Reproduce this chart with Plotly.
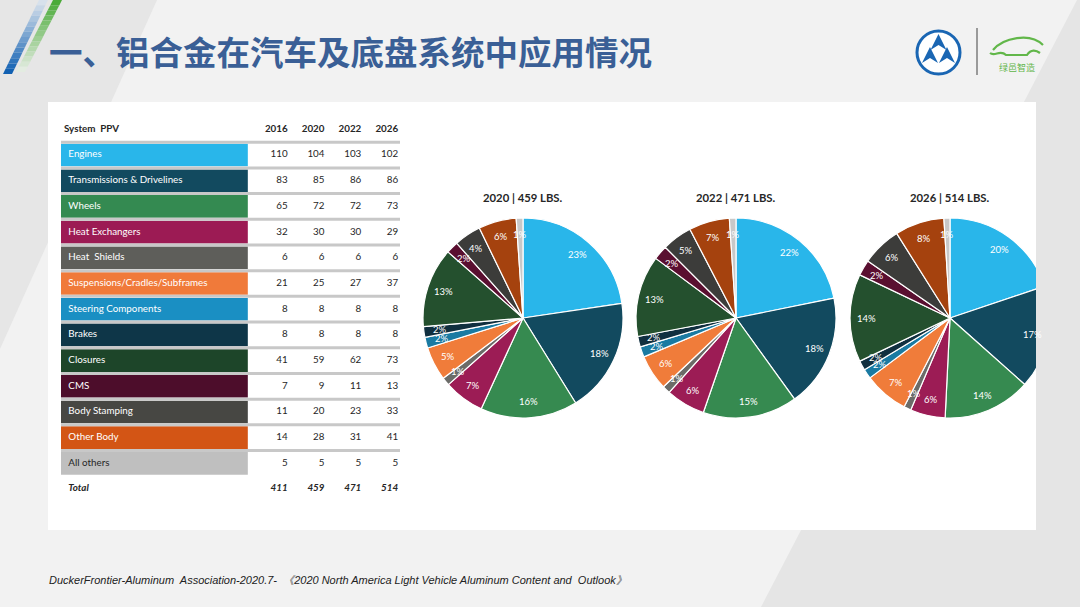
import math
import plotly.graph_objects as go

# ---------------- data ----------------
categories = ["Engines", "Transmissions & Drivelines", "Wheels", "Heat Exchangers",
              "Heat  Shields", "Suspensions/Cradles/Subframes", "Steering Components",
              "Brakes", "Closures", "CMS", "Body Stamping", "Other Body", "All others"]
years = ["2016", "2020", "2022", "2026"]
v2016 = [110, 83, 65, 32, 6, 21, 8, 8, 41, 7, 11, 14, 5]
v2020 = [104, 85, 72, 30, 6, 25, 8, 8, 59, 9, 20, 28, 5]
v2022 = [103, 86, 72, 30, 6, 27, 8, 8, 62, 11, 23, 31, 5]
v2026 = [102, 86, 73, 29, 6, 37, 8, 8, 73, 13, 33, 41, 5]
totals = [411, 459, 471, 514]
pie_years = ["2020", "2022", "2026"]
pct2020 = ["23%", "18%", "16%", "7%", "1%", "5%", "2%", "2%", "13%", "2%", "4%", "6%", "1%"]
pct2022 = ["22%", "18%", "15%", "6%", "1%", "6%", "2%", "2%", "13%", "2%", "5%", "7%", "1%"]
pct2026 = ["20%", "17%", "14%", "6%", "1%", "7%", "2%", "2%", "14%", "2%", "6%", "8%", "1%"]
title_text = "一、铝合金在汽车及底盘系统中应用情况"
source_text = ("DuckerFrontier-Aluminum  Association-2020.7-  《2020 North America Light "
               "Vehicle Aluminum Content and  Outlook》")
logo_text = "绿邑智造"

# ---------------- styles ----------------
table_colors = ["#29b6ea", "#124a5f", "#348a51", "#9c1b54", "#5e5e5a", "#f07a3a", "#1a8fc3",
                "#0e3648", "#1d4529", "#4d0d2b", "#474743", "#d35515", "#bfbfbf"]
pie_colors = ["#29b6ea", "#124a5f", "#368a50", "#9c1c55", "#6b6b68", "#f07c3a", "#1a7aa2",
              "#102f3f", "#24502e", "#5a0f30", "#3c3c3a", "#a5420e", "#c8c8c8"]
label_colors = ["white"] * 12 + ["#262626"]
TXT = "#262626"
FONT = "Lato"
CJK = "Noto Sans CJK SC"

W, H = 1080, 607


def X(x):
    return x / W


def Y(y):
    return 1 - y / H


def poly(pts):
    s = "M " + " L ".join(f"{X(a):.5f},{Y(b):.5f}" for a, b in pts) + " Z"
    return s


def lerp(c1, c2, t):
    a = [int(c1[i:i + 2], 16) for i in (1, 3, 5)]
    b = [int(c2[i:i + 2], 16) for i in (1, 3, 5)]
    return "#" + "".join(f"{int(round(a[k] + (b[k] - a[k]) * t)):02x}" for k in range(3))


def note(x, y, text, font, xanchor="center"):
    return dict(x=X(x), y=Y(y), xref="paper", yref="paper", text=text, showarrow=False,
                xanchor=xanchor, yanchor="middle", font=font)


fig = go.Figure()
shapes = []
annotations = []

# ---------- background decoration ----------
shapes.append(dict(type="path", xref="paper", yref="paper", layer="below",
                   path=poly([(0, 0), (157, 0), (0, 349)]),
                   fillcolor="#e6e6e6", line=dict(width=0)))
shapes.append(dict(type="path", xref="paper", yref="paper", layer="below",
                   path=poly([(1077, 0), (1080, 0), (1080, 607), (761, 607)]),
                   fillcolor="#e5e5e5", line=dict(width=0)))


def stripe(tl, tr, bl, br, y0, y1, ctop, cbot, n=14):
    for j in range(n):
        t0, t1 = j / n, (j + 1) / n
        ya, yb = y0 + (y1 - y0) * t0, y0 + (y1 - y0) * t1
        p = [(tl + (bl - tl) * t0, ya), (tr + (br - tr) * t0, ya),
             (tr + (br - tr) * t1, yb), (tl + (bl - tl) * t1, yb)]
        shapes.append(dict(type="path", xref="paper", yref="paper", layer="below",
                           path=poly(p), fillcolor=lerp(ctop, cbot, (t0 + t1) / 2),
                           line=dict(width=0)))


stripe(39, 48, 3, 12, 0, 74, "#dfe6ee", "#0a5cb0")
stripe(53, 62, 16, 25, 0, 72, "#45a833", "#e9efe7")

# white panel
shapes.append(dict(type="rect", xref="paper", yref="paper", layer="below",
                   x0=X(48), x1=X(1036), y0=Y(530), y1=Y(102),
                   fillcolor="white", line=dict(width=0)))

# ---------- logos ----------
shapes.append(dict(type="circle", xref="paper", yref="paper", layer="below",
                   x0=X(917), x1=X(960), y0=Y(74), y1=Y(31),
                   fillcolor="white", line=dict(color="#1a66b3", width=3)))
for ax, ay in [(938.5, 34), (930, 47), (947, 47)]:
    shapes.append(dict(type="path", xref="paper", yref="paper", layer="below",
                       path=poly([(ax, ay), (ax + 8, ay + 16), (ax, ay + 11), (ax - 8, ay + 16)]),
                       fillcolor="#1a66b3", line=dict(width=0)))
shapes.append(dict(type="line", xref="paper", yref="paper", layer="below",
                   x0=X(977), x1=X(977), y0=Y(28), y1=Y(75),
                   line=dict(color="#9a9a9a", width=2)))
car_roof = (f"M {X(993)},{Y(50)} C {X(1003)},{Y(38)} {X(1030)},{Y(32)} {X(1043)},{Y(45)}")
car_low = (f"M {X(990)},{Y(53)} C {X(995)},{Y(57)} {X(1000)},{Y(49)} {X(1006)},{Y(55)} "
           f"L {X(1027)},{Y(55)} C {X(1031)},{Y(49)} {X(1036)},{Y(50)} {X(1040)},{Y(53)}")
for pth in (car_roof, car_low):
    shapes.append(dict(type="path", xref="paper", yref="paper", layer="below",
                       path=pth, line=dict(color="#62b74a", width=2.2)))
annotations.append(note(1017, 67, logo_text, dict(family=CJK, size=9, color="#5fb548")))

# ---------- title & source ----------
annotations.append(note(47, 50, f"<b>{title_text}</b>",
                        dict(family=CJK, size=33.5, color="#3a5f96"), xanchor="left"))
annotations.append(note(47, 580, f"<i>{source_text}</i>",
                        dict(family="Liberation Sans", size=11, color="#222222"), xanchor="left"))

# ---------- table ----------
rows = list(range(len(categories)))
n = len(categories)
fig.add_trace(go.Bar(y=rows, x=[5.07] * n, base=0, orientation="h", width=0.88,
                     marker=dict(color=table_colors, line=dict(width=0)),
                     hoverinfo="skip", showlegend=False, xaxis="x", yaxis="y"))
lx, ly = [], []
for r in rows:
    lx += [-0.03, 9.2, None]
    ly += [r - 0.5, r - 0.5, None]
fig.add_trace(go.Scatter(x=lx, y=ly, mode="lines", line=dict(color="#c8c8c8", width=3),
                         hoverinfo="skip", showlegend=False, xaxis="x", yaxis="y"))
fig.add_trace(go.Scatter(x=[0.2] * n, y=rows, mode="text", text=categories,
                         textposition="middle right",
                         textfont=dict(family=FONT, size=9.8, color=label_colors),
                         hoverinfo="skip", showlegend=False, xaxis="x", yaxis="y"))
# header and total labels
fig.add_trace(go.Scatter(x=[0.08], y=[-1.0], mode="text", text=["<b>System  PPV</b>"],
                         textposition="middle right", textfont=dict(family=FONT, size=9.8, color=TXT),
                         hoverinfo="skip", showlegend=False, xaxis="x", yaxis="y"))
fig.add_trace(go.Scatter(x=[0.2], y=[n], mode="text", text=["<b><i>Total</i></b>"],
                         textposition="middle right", textfont=dict(family=FONT, size=9.8, color=TXT),
                         hoverinfo="skip", showlegend=False, xaxis="x", yaxis="y"))
for k, (yr, col, tot) in enumerate(zip(years, [v2016, v2020, v2022, v2026], totals)):
    xs = [6.15 + k] * (n + 2)
    ys = [-1.0] + rows + [n]
    texts = [f"<b>{yr}</b>"] + [str(v) for v in col] + [f"<b><i>{tot}</i></b>"]
    fig.add_trace(go.Scatter(x=xs, y=ys, mode="text", text=texts, textposition="middle left",
                             textfont=dict(family=FONT, size=9.8, color=TXT),
                             hoverinfo="skip", showlegend=False, xaxis="x", yaxis="y"))

# ---------- pies ----------
pie_vals = [v2020, v2022, v2026]
pie_pcts = [pct2020, pct2022, pct2026]
centers = [(523, 318), (736, 318), (950, 318)]
R = 100
for vals, pcts, (cx, cy), yr, tot in zip(pie_vals, pie_pcts, centers, pie_years, totals[1:]):
    fig.add_trace(go.Pie(values=vals, labels=categories, sort=False, direction="clockwise",
                         rotation=0, textinfo="none", hoverinfo="skip", showlegend=False,
                         marker=dict(colors=pie_colors, line=dict(color="white", width=1.2)),
                         domain=dict(x=[X(cx - R), X(cx + R)], y=[Y(cy + R), Y(cy - R)])))
    annotations.append(note(cx, 197, f"<b>{yr} | {tot} LBS.</b>",
                            dict(family=FONT, size=11.3, color=TXT)))
    s = sum(vals)
    cum = 0
    for v, p in zip(vals, pcts):
        mid = (cum + v / 2) / s * 2 * math.pi
        cum += v
        tx = cx + 0.84 * R * math.sin(mid)
        ty = cy - 0.84 * R * math.cos(mid)
        annotations.append(note(tx, ty, p, dict(family=FONT, size=9.5, color="white")))

# cover the part of the last pie outside the panel
shapes.append(dict(type="rect", xref="paper", yref="paper", layer="above",
                   x0=X(1036), x1=X(1080), y0=Y(440), y1=Y(200),
                   fillcolor="#e5e5e5", line=dict(width=0)))

fig.update_layout(
    width=W, height=H, margin=dict(l=0, r=0, t=0, b=0),
    paper_bgcolor="#f2f2f2", plot_bgcolor="rgba(0,0,0,0)",
    xaxis=dict(domain=[X(61), X(400)], range=[0, 9.2], visible=False, fixedrange=True),
    yaxis=dict(domain=[Y(501.9), Y(116.5)], range=[13.5, -1.5], visible=False, fixedrange=True),
    bargap=0.1, hovermode=False, shapes=shapes, annotations=annotations,
)

fig.write_html("out.html", config={"displayModeBar": False},
               post_script="document.body.style.margin='0';document.body.style.padding='0';"
                           "document.body.style.background='#f2f2f2';")
